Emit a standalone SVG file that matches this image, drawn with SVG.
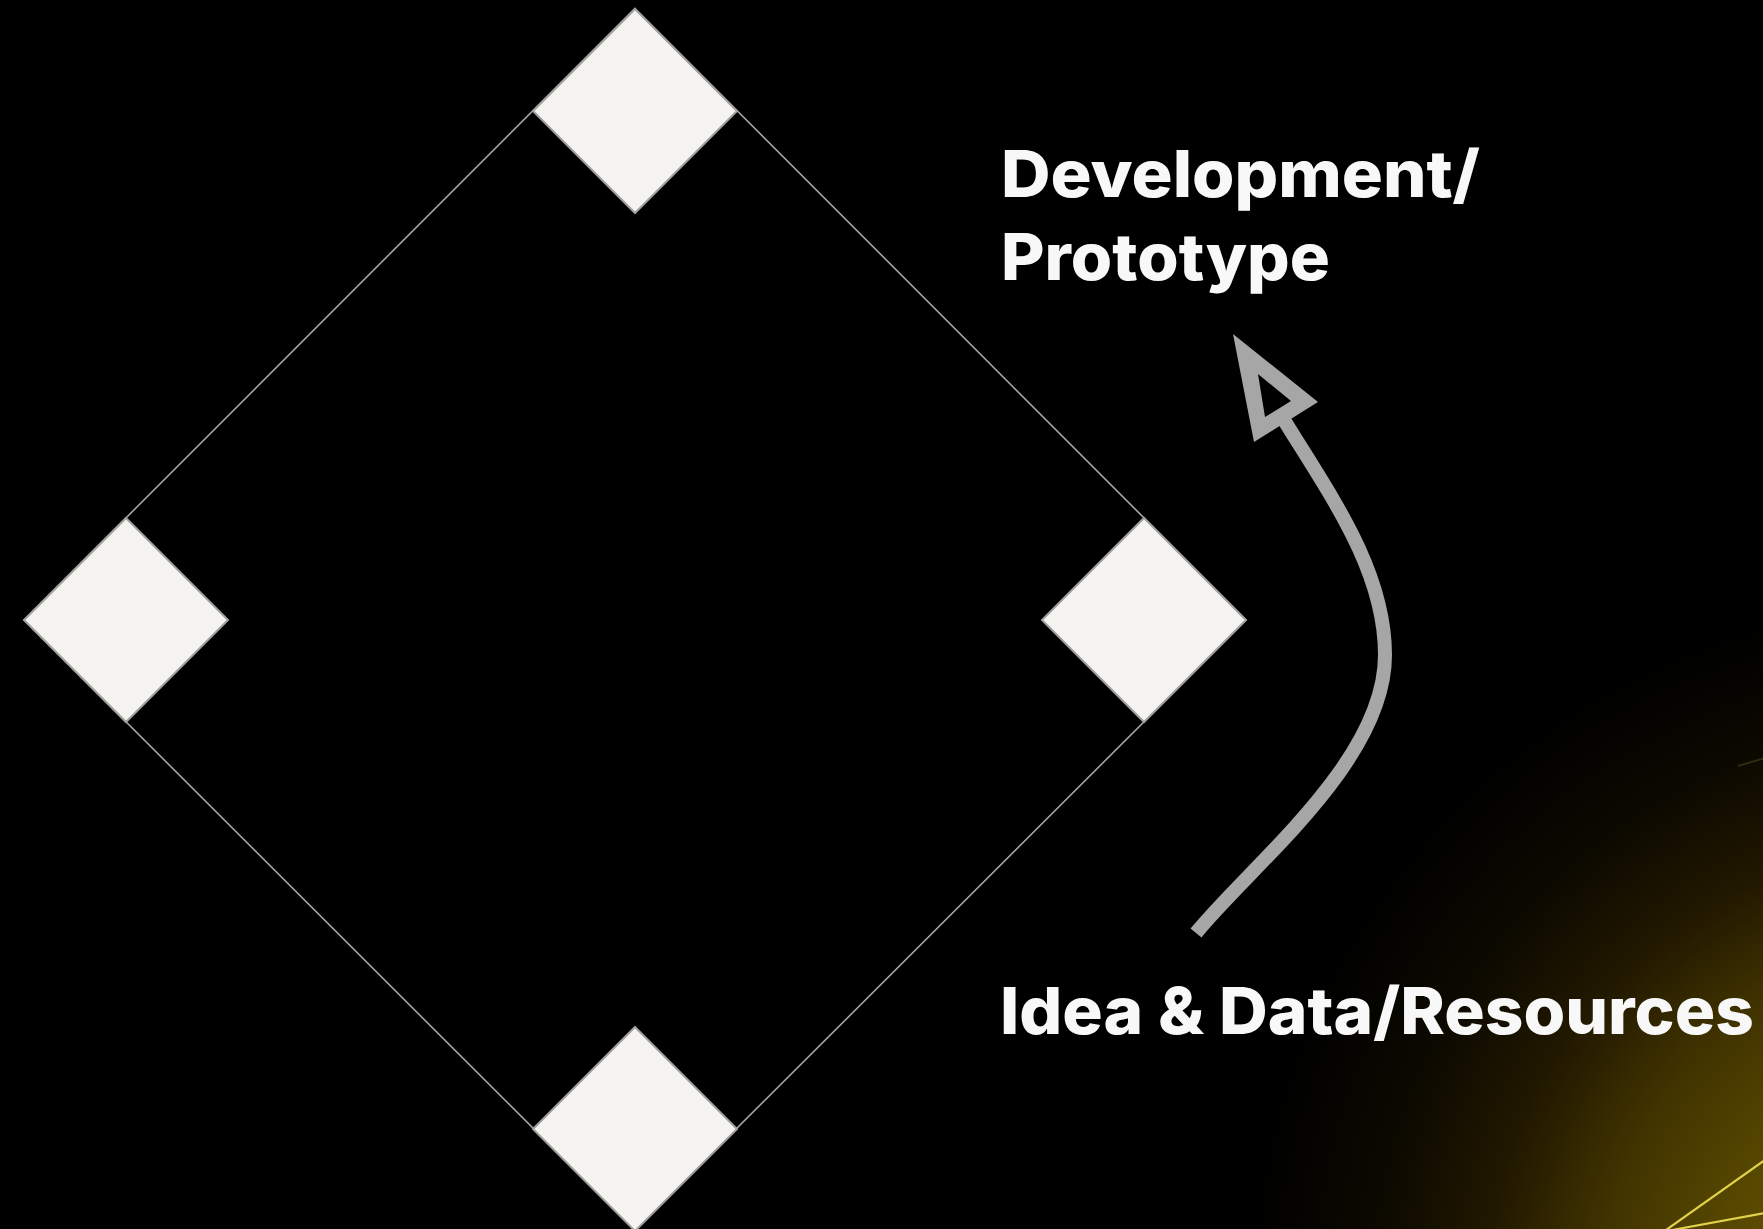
<svg xmlns="http://www.w3.org/2000/svg" width="1763" height="1229" viewBox="0 0 1763 1229">
  <defs>
    <radialGradient id="glow" gradientUnits="userSpaceOnUse" cx="1950" cy="1300" r="800">
      <stop offset="0" stop-color="#6e5c00"/>
      <stop offset="0.28" stop-color="#584900"/>
      <stop offset="0.44" stop-color="#403300"/>
      <stop offset="0.58" stop-color="#211800"/>
      <stop offset="0.72" stop-color="#0c0900"/>
      <stop offset="0.88" stop-color="#000000"/>
    </radialGradient>
    <style>
      .frame { fill: none; stroke: #a4a4a4; stroke-width: 1.6; }
      .corner { fill: #f4f3ef; stroke: #a0a0a0; stroke-width: 2; }
      .label { font-family: Inter, "Liberation Sans", sans-serif; font-weight: 800; font-size: 65px; fill: #f8f8f8; }
      .flow { fill: none; stroke: #a6a6a6; stroke-width: 14; }
      .head { fill: #a6a6a6; fill-rule: evenodd; }
      .ray { stroke: #e2d24a; stroke-width: 2.2; fill: none; }
    </style>
  </defs>

  <!-- background with warm glow in the lower right -->
  <rect width="1763" height="1229" fill="#000"/>
  <rect width="1763" height="1229" fill="url(#glow)"/>
  <g id="rays">
    <line class="ray" x1="1666" y1="1230" x2="1765" y2="1160"/>
    <line class="ray" x1="1672" y1="1230" x2="1765" y2="1213"/>
    <line x1="1738" y1="766" x2="1765" y2="758" stroke="#2e2a0c" stroke-width="2"/>
  </g>

  <!-- outer square frame joining the four corner tiles -->
  <g id="frame">
    <polygon class="frame" points="635,8.5 1246,620 635,1230 24,620"/>
  </g>

  <g id="tile-top">
    <polygon class="corner" points="635,9 737,111 635,213 533,111"/>
  </g>
  <g id="tile-left">
    <polygon class="corner" points="126,518 228,620 126,722 24,620"/>
  </g>
  <g id="tile-right">
    <polygon class="corner" points="1144,518 1246,620 1144,722 1042,620"/>
  </g>
  <g id="tile-bottom">
    <polygon class="corner" points="635,1027 737,1129 635,1231 533,1129"/>
  </g>

  <!-- curved arrow from the resources label up to the prototype label -->
  <g id="connectors">
    <path class="flow" d="M1196,933 C1250,866 1385,762 1385,655 C1385,570 1330,495 1284,420"/>
    <path class="head" d="M1233,334 L1318,402 L1254,442 Z M1258,374 L1291,401 L1265,417 Z"/>
  </g>

  <g id="label-development">
    <text class="label" x="1001" y="197" textLength="479" lengthAdjust="spacingAndGlyphs">Development/</text>
    <text class="label" x="1001" y="280" textLength="329" lengthAdjust="spacingAndGlyphs">Prototype</text>
  </g>
  <g id="label-idea">
    <text class="label" x="1000" y="1034" textLength="754" lengthAdjust="spacingAndGlyphs">Idea &amp; Data/Resources</text>
  </g>
</svg>
